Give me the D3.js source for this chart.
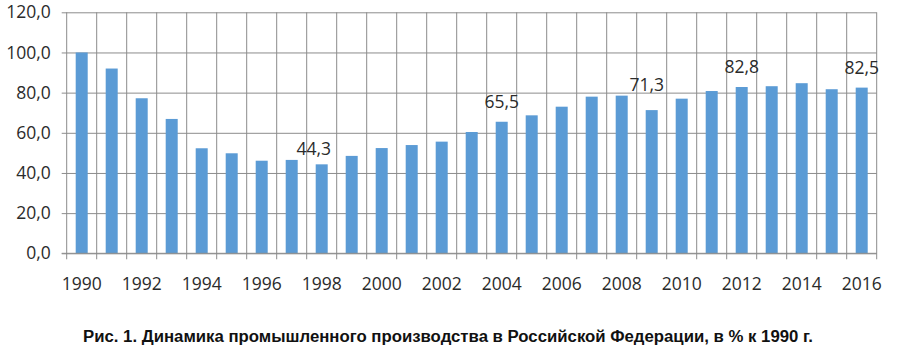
<!DOCTYPE html>
<html>
<head>
<meta charset="utf-8">
<script src="https://cdn.jsdelivr.net/npm/d3@7"></script>
<style>
  body { margin: 0; background: #fff; }
  svg { display: block; }
</style>
</head>
<body>
<script>
// data: industrial production index, % of 1990
const years = [1990, 1991, 1992, 1993, 1994, 1995, 1996, 1997, 1998, 1999,
               2000, 2001, 2002, 2003, 2004, 2005, 2006, 2007, 2008, 2009,
               2010, 2011, 2012, 2013, 2014, 2015, 2016];
const values = [100.0, 92.0, 77.2, 66.9, 52.3, 49.8, 46.1, 46.5, 44.3, 48.5,
                52.4, 53.9, 55.6, 60.4, 65.5, 68.7, 73.0, 78.0, 78.5, 71.3,
                77.0, 80.8, 82.8, 83.2, 84.7, 81.7, 82.5];
const labelYears = [1998, 2004, 2009, 2012, 2016];
const yTicks = [0, 20, 40, 60, 80, 100, 120];
const caption = "Рис. 1. Динамика промышленного производства в Российской Федерации, в % к 1990 г.";

// label nudges (pixels), the way they were moved by hand in the original
const labelShift = {1998: [-8, 9], 2004: [0, 14], 2009: [-5, 19], 2012: [0, 14], 2016: [0, 14]};

const W = 901, H = 349;
const plot = {left: 66.7, right: 876.7, top: 12.3, bottom: 253.3};
const font = "'Open Sans', sans-serif";
const gridColor = "#8c8c8c";
const textColor = "#2b2b2b";

const fmt = v => v.toFixed(1).replace(".", ",");

const svg = d3.select("body")
    .append("svg")
    .attr("width", W)
    .attr("height", H);

const x = d3.scaleBand()
    .domain(years)
    .range([plot.left, plot.right])
    .paddingInner(0.6)
    .paddingOuter(0.3);

const y = d3.scaleLinear()
    .domain([0, 120])
    .range([plot.bottom, plot.top]);

// horizontal grid + y labels
const yAxis = svg.append("g")
    .attr("transform", `translate(${plot.left},0)`)
    .call(d3.axisLeft(y)
        .tickValues(yTicks)
        .tickSize(-(plot.right - plot.left))
        .tickSizeOuter(0)
        .tickPadding(16)
        .tickFormat(fmt));
yAxis.select(".domain").remove();
yAxis.selectAll(".tick line")
    .attr("x1", -5)
    .attr("stroke", gridColor);
yAxis.selectAll(".tick text")
    .attr("font-family", font)
    .attr("font-size", "17.5px")
    .attr("fill", textColor);

// vertical grid at category boundaries
const step = x.step();
const bounds = years.map((d, i) => plot.left + i * step).concat([plot.right]);
svg.append("g")
    .selectAll("line")
    .data(bounds)
    .enter()
    .append("line")
    .attr("x1", d => d)
    .attr("x2", d => d)
    .attr("y1", plot.top)
    .attr("y2", plot.bottom + 6)
    .attr("stroke", gridColor)
    .attr("stroke-width", 1);

// bars
svg.append("g")
    .selectAll("rect")
    .data(years)
    .enter()
    .append("rect")
    .attr("x", d => x(d))
    .attr("width", x.bandwidth())
    .attr("y", (d, i) => y(values[i]))
    .attr("height", (d, i) => y(0) - y(values[i]))
    .attr("fill", "#5b9bd5");

// x axis line
svg.append("line")
    .attr("x1", plot.left - 5)
    .attr("x2", plot.right)
    .attr("y1", plot.bottom)
    .attr("y2", plot.bottom)
    .attr("stroke", gridColor);

// x labels (every second year)
svg.append("g")
    .selectAll("text")
    .data(years.filter(d => d % 2 === 0))
    .enter()
    .append("text")
    .attr("x", d => x(d) + x.bandwidth() / 2)
    .attr("y", 290)
    .attr("text-anchor", "middle")
    .attr("font-family", font)
    .attr("font-size", "17.5px")
    .attr("fill", textColor)
    .text(d => d);

// data labels
svg.append("g")
    .selectAll("text")
    .data(labelYears)
    .enter()
    .append("text")
    .attr("x", d => x(d) + x.bandwidth() / 2 + labelShift[d][0])
    .attr("y", d => y(values[years.indexOf(d)]) - labelShift[d][1])
    .attr("text-anchor", "middle")
    .attr("font-family", font)
    .attr("font-size", "17.5px")
    .attr("fill", textColor)
    .text(d => fmt(values[years.indexOf(d)]));

// caption
svg.append("text")
    .attr("x", 83)
    .attr("y", 342)
    .attr("font-family", "'Liberation Sans', Arial, sans-serif")
    .attr("font-weight", "bold")
    .attr("font-size", "16px")
    .attr("fill", "#111")
    .attr("textLength", 730)
    .attr("lengthAdjust", "spacingAndGlyphs")
    .text(caption);
</script>
</body>
</html>
